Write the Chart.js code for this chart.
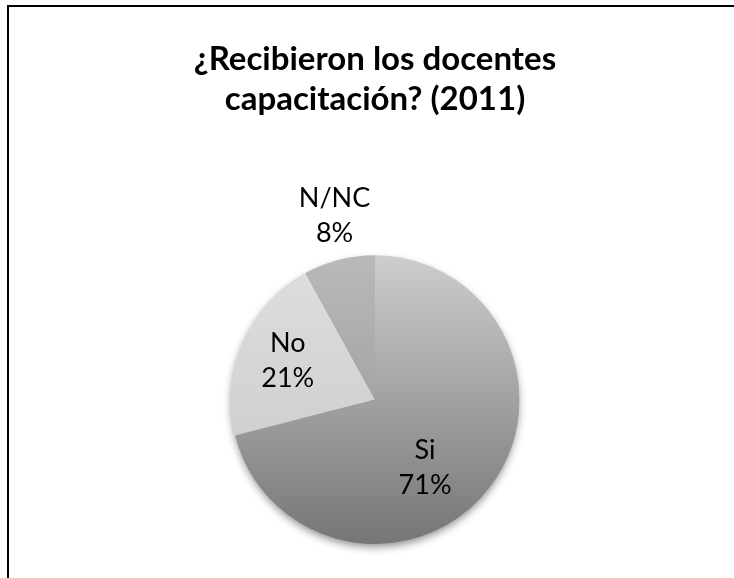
<!DOCTYPE html>
<html>
<head>
<meta charset="utf-8">
<script src="https://cdn.jsdelivr.net/npm/chart.js@4.4.0/dist/chart.umd.min.js"></script>
<style>
  html, body { margin: 0; padding: 0; background: #fff; overflow: hidden; }
  #wrap { position: relative; width: 734px; height: 578px; overflow: hidden; }
  #frame { position: absolute; left: 7px; top: 5px; width: 800px; height: 700px;
           border-left: 2px solid #000; border-top: 2px solid #000; }
  canvas { position: absolute; left: 0; top: 0; }
</style>
</head>
<body>
<div id="wrap">
  <div id="frame"></div>
  <canvas id="c" width="734" height="578"></canvas>
</div>
<script>
const titleLines = ["¿Recibieron los docentes", "capacitación? (2011)"];
const categories = ["Si", "No", "N/NC"];
const values = [71, 21, 8];

// gradient colours for each slice (top of pie -> bottom of pie)
const shadeTop = ["#cdcdcd", "#dedede", "#b9b9b9"];
const shadeBottom = ["#767676", "#c8c8c8", "#909090"];
// where each label sits: angle shift from slice middle (deg), fraction of radius
const labelPlace = [
  { shift: 15.9, k: 0.586 },
  { shift: 0.7, k: 0.662 },
  { shift: 2.0, k: 1.305 }
];

function sliceColor(context) {
  const chart = context.chart;
  const area = chart.chartArea;
  const i = context.dataIndex;
  if (!area) return shadeTop[i];
  const cy = (area.top + area.bottom) / 2;
  const r = Math.min(area.right - area.left, area.bottom - area.top) / 2;
  const g = chart.ctx.createLinearGradient(0, cy - r, 0, cy + r);
  g.addColorStop(0, shadeTop[i]);
  g.addColorStop(1, shadeBottom[i]);
  return g;
}

// soft shadow under the whole pie
const pieShadow = {
  id: "pieShadow",
  beforeDatasetsDraw(chart) {
    const arc = chart.getDatasetMeta(0).data[0];
    if (!arc) return;
    const ctx = chart.ctx;
    ctx.save();
    ctx.shadowColor = "rgba(0,0,0,0.45)";
    ctx.shadowBlur = 8;
    ctx.shadowOffsetY = 4;
    ctx.fillStyle = "#888";
    ctx.beginPath();
    ctx.arc(arc.x, arc.y, arc.outerRadius - 1, 0, Math.PI * 2);
    ctx.fill();
    ctx.restore();
  }
};

// "name / percent" labels
const sliceLabels = {
  id: "sliceLabels",
  afterDatasetsDraw(chart) {
    const ctx = chart.ctx;
    const data = chart.data.datasets[0].data;
    const total = data.reduce((a, b) => a + b, 0);
    chart.getDatasetMeta(0).data.forEach((arc, i) => {
      const p = arc.getProps(["x", "y", "startAngle", "endAngle", "outerRadius"], true);
      const mid = (p.startAngle + p.endAngle) / 2 + labelPlace[i].shift * Math.PI / 180;
      const lx = p.x + Math.cos(mid) * p.outerRadius * labelPlace[i].k;
      const ly = p.y + Math.sin(mid) * p.outerRadius * labelPlace[i].k;
      const pct = Math.round(data[i] / total * 100) + "%";
      ctx.save();
      ctx.font = "27px Lato";
      ctx.fillStyle = "#000";
      ctx.textAlign = "center";
      ctx.textBaseline = "middle";
      ctx.fillText(chart.data.labels[i], lx, ly - 17.5);
      ctx.fillText(pct, lx, ly + 17.5);
      ctx.restore();
    });
  }
};

const chart = new Chart(document.getElementById("c"), {
  type: "pie",
  data: {
    labels: categories,
    datasets: [{
      data: values,
      backgroundColor: sliceColor,
      borderWidth: 0
    }]
  },
  options: {
    responsive: false,
    animation: false,
    events: [],
    layout: { padding: { left: 16, right: 0, top: 0, bottom: 34 } },
    plugins: {
      legend: { display: false },
      tooltip: { enabled: false },
      title: {
        display: true,
        text: titleLines,
        color: "#000",
        font: { family: "Lato", size: 33, weight: "bold", lineHeight: 1.2 },
        padding: { top: 40, bottom: 136 }
      }
    }
  },
  plugins: [pieShadow, sliceLabels]
});
</script>
</body>
</html>
